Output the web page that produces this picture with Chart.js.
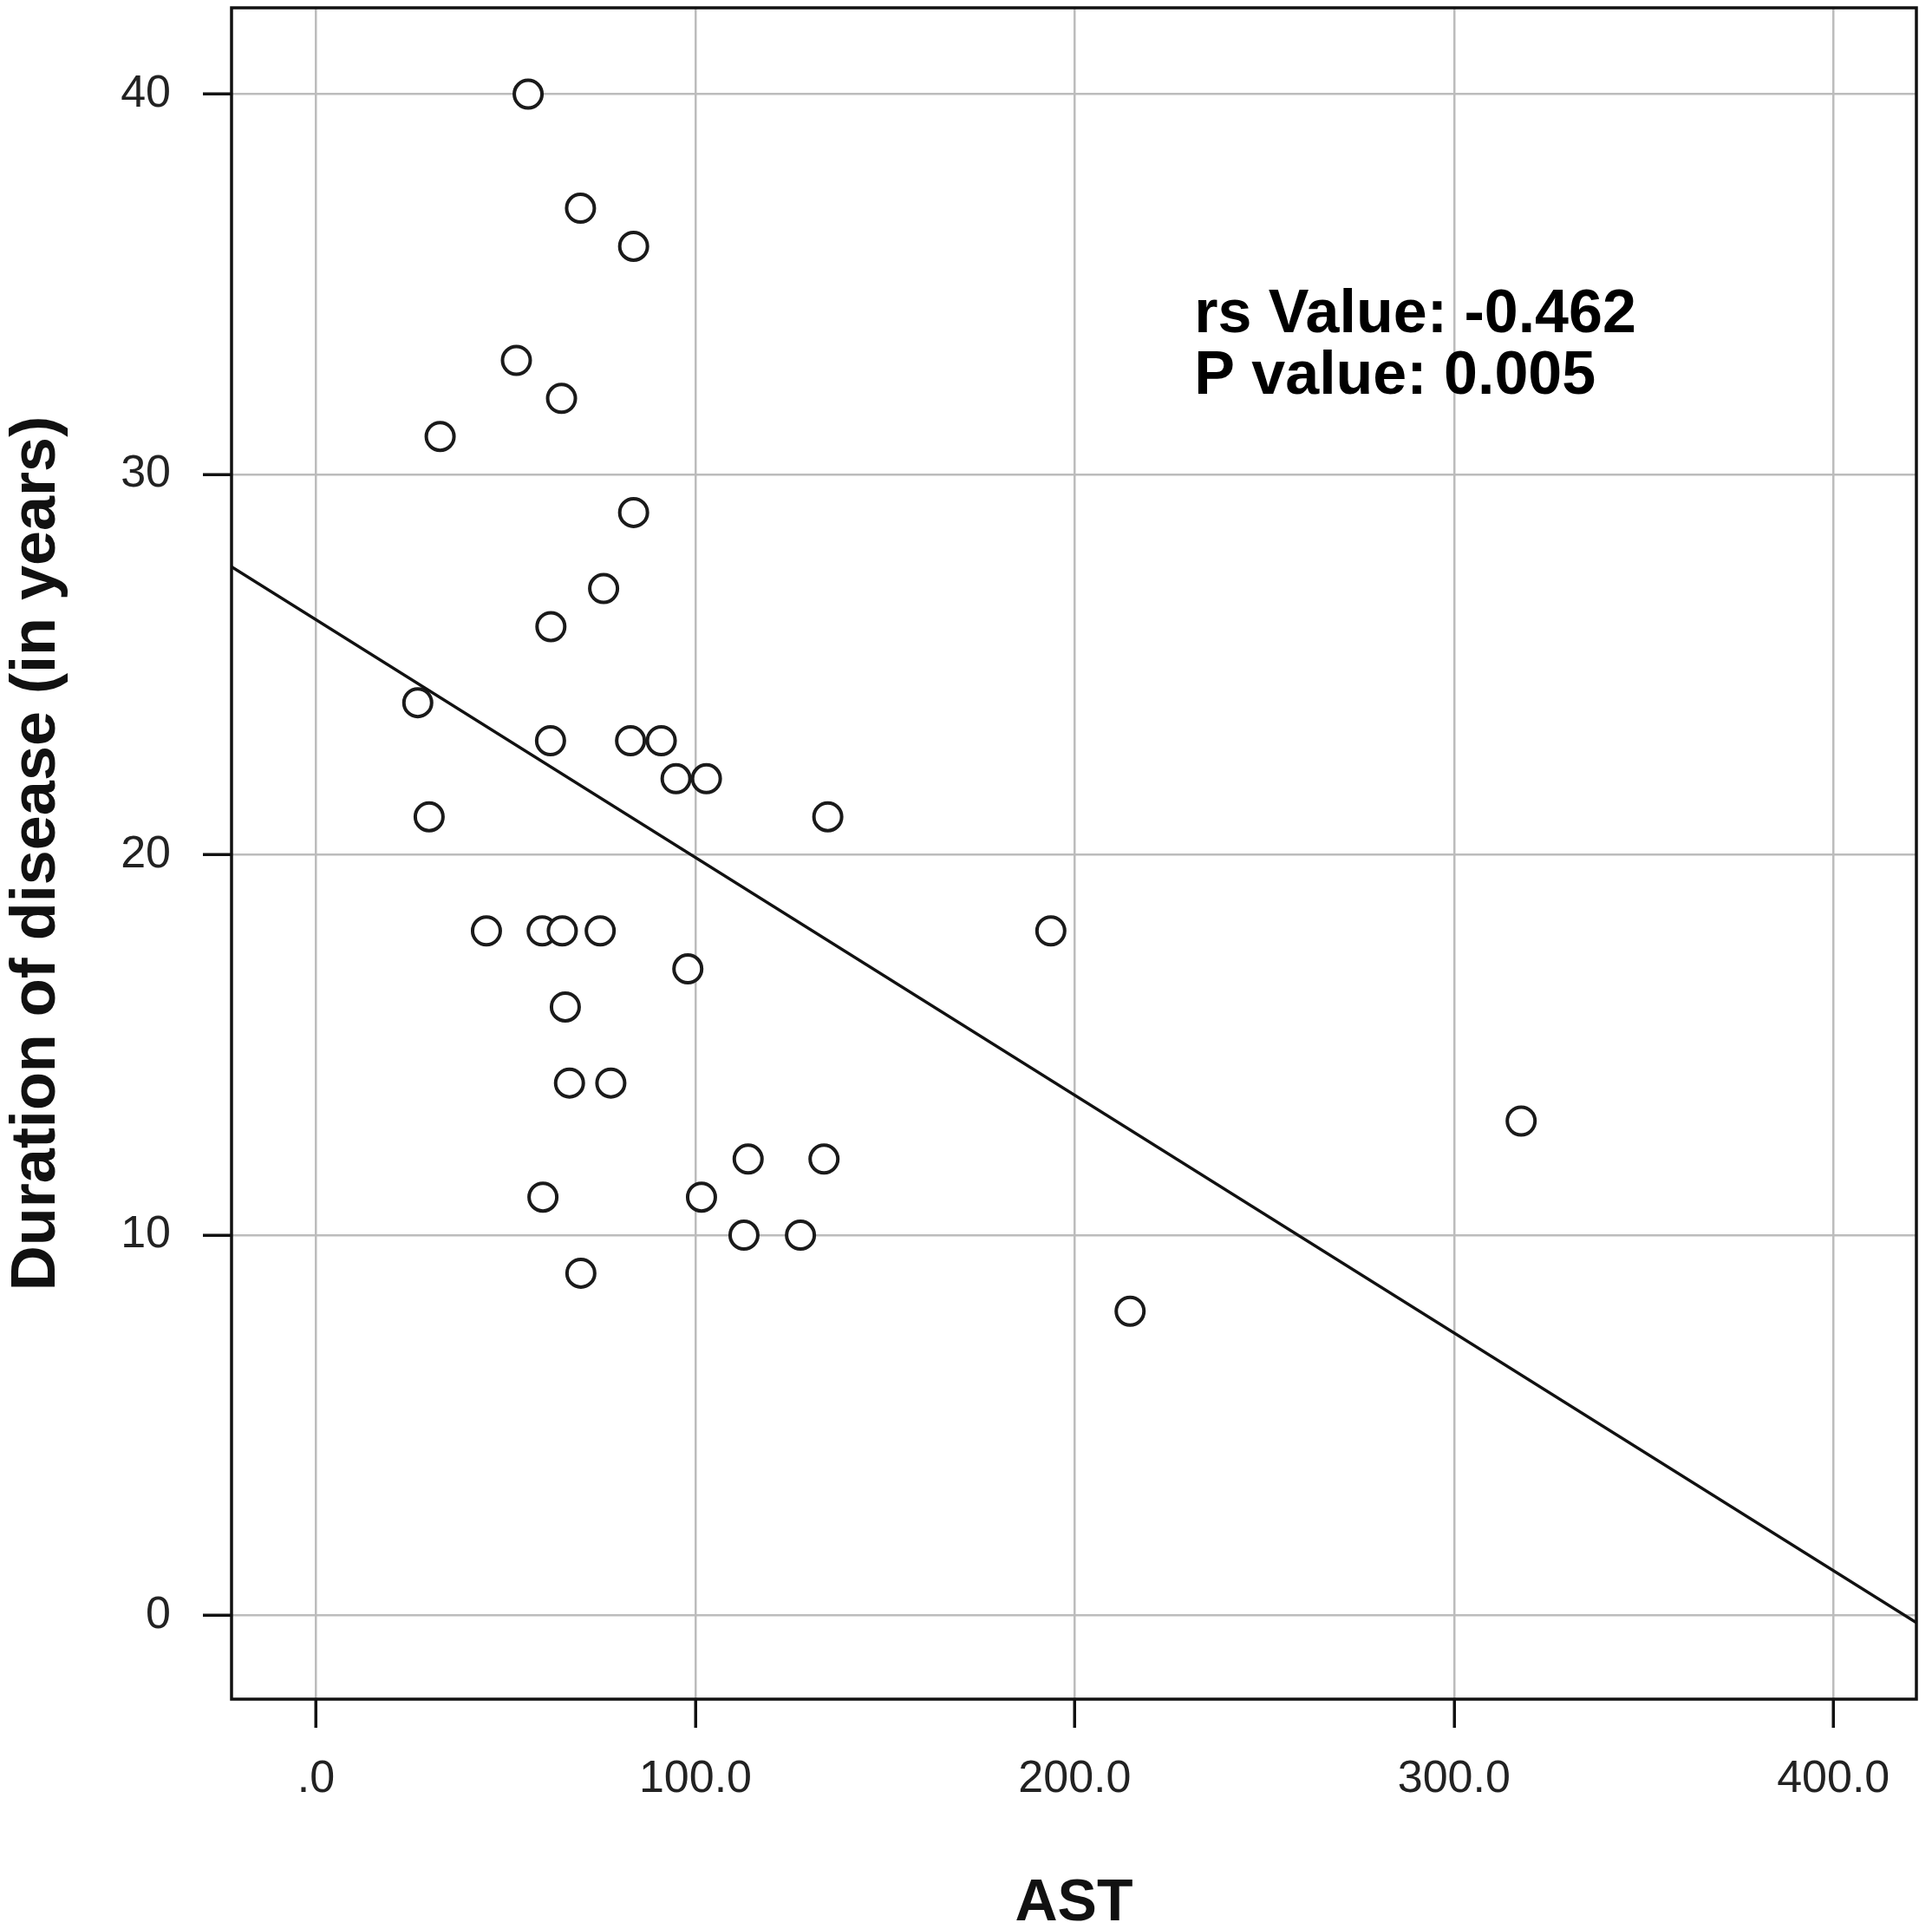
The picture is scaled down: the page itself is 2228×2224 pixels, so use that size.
<!DOCTYPE html>
<html>
<head>
<meta charset="utf-8">
<script src="https://cdn.jsdelivr.net/npm/chart.js@4.4.1/dist/chart.umd.min.js"></script>
<style>
  html, body { margin: 0; padding: 0; background: #fff; }
  #wrap { width: 2228px; height: 2224px; }
</style>
</head>
<body>
<div id="wrap"><canvas id="chart" width="2228" height="2224"></canvas></div>
<script>
// AST vs duration of disease
const astValues = [55.9, 69.7, 83.7, 52.8, 64.7, 32.7, 83.7, 75.8, 61.9, 26.8,
                   61.8, 82.9, 91.0, 94.9, 102.9, 29.8, 134.9, 44.9, 59.6, 64.9,
                   74.9, 193.7, 98.0, 65.7, 66.8, 77.7, 317.7, 113.9, 133.9, 59.8,
                   101.6, 112.8, 127.7, 69.8, 214.6];
const durationValues = [40, 37, 36, 33, 32, 31, 29, 27, 26, 24,
                        23, 23, 23, 22, 22, 21, 21, 18, 18, 18,
                        18, 18, 17, 16, 14, 14, 13, 12, 12, 11,
                        11, 10, 10, 9, 8];

const xTickValues = [0, 100, 200, 300, 400];
const yTickValues = [0, 10, 20, 30, 40];

// fitted line (as printed on the figure)
const fitIntercept = 26.18;
const fitSlope = -0.0625;

const statLines = ['rs Value: -0.462', 'P value: 0.005'];
const statX = 231.5;
const statY = [33.74, 32.12];

const xMin = -22.3, xMax = 421.9;
const yMin = -2.2, yMax = 42.27;

const FONT = '"Liberation Sans", Arial, sans-serif';

const points = astValues.map((v, i) => ({ x: v, y: durationValues[i] }));
const fitLine = [xMin, xMax].map(v => ({ x: v, y: fitIntercept + fitSlope * v }));

// box around the plot area
const frame = {
    id: 'frame',
    afterDraw(chart) {
        const { ctx, chartArea: a } = chart;
        ctx.save();
        ctx.strokeStyle = '#111';
        ctx.lineWidth = 3.5;
        ctx.strokeRect(a.left, a.top, a.right - a.left, a.bottom - a.top);
        ctx.restore();
    }
};

// rs / P value text
const statsText = {
    id: 'statsText',
    afterDatasetsDraw(chart) {
        const { ctx, scales: { x, y } } = chart;
        ctx.save();
        ctx.font = 'bold 70px ' + FONT;
        ctx.fillStyle = '#000';
        ctx.textAlign = 'left';
        ctx.textBaseline = 'alphabetic';
        statLines.forEach((t, i) => {
            ctx.fillText(t, x.getPixelForValue(statX), y.getPixelForValue(statY[i]));
        });
        ctx.restore();
    }
};

const gridOpts = {
    color: '#bcbcbc',
    lineWidth: 2.5,
    tickColor: '#111',
    tickWidth: 3.5,
    tickLength: 33
};

new Chart(document.getElementById('chart').getContext('2d'), {
    data: {
        datasets: [
            {
                type: 'line',
                data: fitLine,
                borderColor: '#111',
                borderWidth: 3.5,
                pointRadius: 0,
                fill: false,
                order: 0
            },
            {
                type: 'scatter',
                data: points,
                pointStyle: 'circle',
                pointRadius: 16,
                pointBorderWidth: 4,
                pointBackgroundColor: '#fff',
                pointBorderColor: '#1a1a1a',
                order: 1
            }
        ]
    },
    options: {
        responsive: false,
        devicePixelRatio: 1,
        animation: false,
        layout: { autoPadding: false, padding: { top: 9, right: 18, left: 0, bottom: 0 } },
        plugins: {
            legend: { display: false },
            tooltip: { enabled: false }
        },
        scales: {
            x: {
                type: 'linear',
                min: xMin,
                max: xMax,
                afterBuildTicks: s => { s.ticks = xTickValues.map(v => ({ value: v })); },
                afterFit: s => { s.height = 265; s.paddingLeft = 0; s.paddingRight = 0; },
                ticks: {
                    callback: v => v === 0 ? '.0' : Number(v).toFixed(1),
                    font: { family: FONT, size: 52 },
                    color: '#222',
                    padding: 28,
                    maxRotation: 0,
                    autoSkip: false
                },
                grid: gridOpts,
                border: { display: false },
                title: {
                    display: true,
                    text: 'AST',
                    color: '#111',
                    font: { family: FONT, size: 68, weight: 'bold', lineHeight: 0.85 },
                    padding: 0
                }
            },
            y: {
                type: 'linear',
                min: yMin,
                max: yMax,
                afterBuildTicks: s => { s.ticks = yTickValues.map(v => ({ value: v })); },
                afterFit: s => { s.width = 267; s.paddingTop = 0; s.paddingBottom = 0; },
                ticks: {
                    font: { family: FONT, size: 52 },
                    color: '#222',
                    padding: 37,
                    autoSkip: false
                },
                grid: gridOpts,
                border: { display: false },
                title: {
                    display: true,
                    text: 'Duration of disease (in years)',
                    color: '#111',
                    font: { family: FONT, size: 72, weight: 'bold' },
                    padding: 0
                }
            }
        }
    },
    plugins: [frame, statsText]
});
</script>
</body>
</html>
